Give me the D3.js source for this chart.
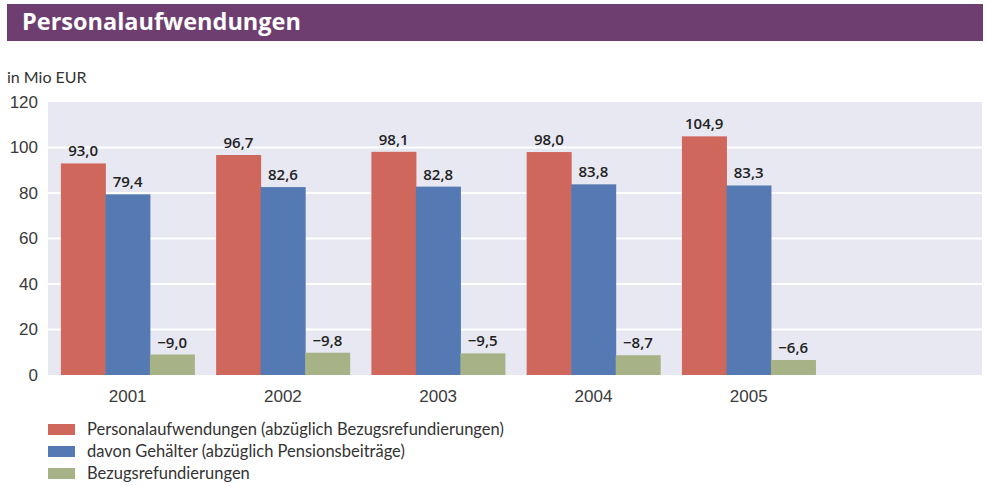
<!DOCTYPE html>
<html>
<head>
<meta charset="utf-8">
<style>
  body { margin: 0; background: #fff; }
  svg { display: block; font-family: "Lato", "Open Sans", sans-serif; }
  .tick text { fill: #3a3a3a; font-size: 17px; }
  .val { font-family: "Open Sans", sans-serif; font-weight: 600; font-size: 15px; fill: #222; text-anchor: middle; }
  .leg { font-size: 16.5px; fill: #333; }
</style>
<script src="https://d3js.org/d3.v7.min.js"></script>
</head>
<body>
<svg id="chart" width="988" height="486"></svg>
<script>
// data
const years = ["2001", "2002", "2003", "2004", "2005"];
const personal = [93.0, 96.7, 98.1, 98.0, 104.9];
const gehalt = [79.4, 82.6, 82.8, 83.8, 83.3];
const refund = [-9.0, -9.8, -9.5, -8.7, -6.6];
const seriesNames = [
  "Personalaufwendungen (abzüglich Bezugsrefundierungen)",
  "davon Gehälter (abzüglich Pensionsbeiträge)",
  "Bezugsrefundierungen"
];
const colors = ["#d0675c", "#5479b3", "#a7b286"];
const yTicks = [0, 20, 40, 60, 80, 100, 120];

const svg = d3.select("#chart");
const plotL = 48, plotR = 982, plotT = 102, plotB = 375;
const slots = 6; // one empty slot on the right

// title bar
svg.append("rect").attr("x", 7).attr("y", 4).attr("width", 976).attr("height", 37).attr("fill", "#6f3e71");
svg.append("text").attr("x", 22).attr("y", 30)
  .attr("fill", "#fff").style("font-weight", 700).style("font-size", "23.5px")
  .style("font-family", "'Open Sans', sans-serif")
  .text("Personalaufwendungen");

svg.append("text").attr("x", 7).attr("y", 83).attr("fill", "#333").style("font-size", "16px").text("in Mio EUR");

const y = d3.scaleLinear().domain([0, 120]).range([plotB, plotT]);
const step = (plotR - plotL) / slots;
const x0 = d3.scaleBand().domain(years).range([plotL + 2, plotR - step]).paddingInner(0.14).paddingOuter(0.07);
const x1 = d3.scaleBand().domain([0, 1, 2]).range([0, x0.bandwidth()]);

// plot background + grid
svg.append("rect").attr("x", plotL).attr("y", plotT).attr("width", plotR - plotL).attr("height", plotB - plotT).attr("fill", "#e7e8f2");
svg.append("g").selectAll("line").data(yTicks.filter(t => t > 0 && t < 120)).join("line")
  .attr("x1", plotL).attr("x2", plotR).attr("y1", d => y(d)).attr("y2", d => y(d))
  .attr("stroke", "#fff").attr("stroke-width", 2);

// axes
const yAxis = svg.append("g").attr("transform", "translate(38,0)")
  .call(d3.axisLeft(y).tickValues(yTicks).tickSize(0).tickPadding(0));
yAxis.select(".domain").remove();

const xAxis = svg.append("g").attr("transform", `translate(0,${plotB})`)
  .call(d3.axisBottom(x0).tickSize(0).tickPadding(15));
xAxis.select(".domain").remove();

// bars
const rows = years.map((yr, i) => ({ yr, vals: [personal[i], gehalt[i], refund[i]] }));
const fmt = v => (v < 0 ? "\u2212" : "") + d3.format(".1f")(Math.abs(v)).replace(".", ",");

const grp = svg.append("g").selectAll("g").data(rows).join("g")
  .attr("transform", d => `translate(${x0(d.yr)},0)`);
grp.selectAll("rect").data(d => d.vals.map((v, k) => ({ v, k }))).join("rect")
  .attr("x", d => x1(d.k)).attr("width", x1.bandwidth() + 0.5)
  .attr("y", d => y(Math.abs(d.v))).attr("height", d => plotB - y(Math.abs(d.v)))
  .attr("fill", d => colors[d.k]);
grp.selectAll("text").data(d => d.vals.map((v, k) => ({ v, k }))).join("text")
  .attr("class", "val")
  .attr("x", d => x1(d.k) + x1.bandwidth() / 2)
  .attr("y", d => y(Math.abs(d.v)) - 7)
  .text(d => fmt(d.v));

// legend
const leg = svg.append("g").selectAll("g").data(seriesNames).join("g")
  .attr("transform", (d, i) => `translate(48,${424 + i * 22})`);
leg.append("rect").attr("width", 27).attr("height", 11).attr("fill", (d, i) => colors[i]);
leg.append("text").attr("class", "leg").attr("x", 39).attr("y", 11).text(d => d);
</script>
</body>
</html>
